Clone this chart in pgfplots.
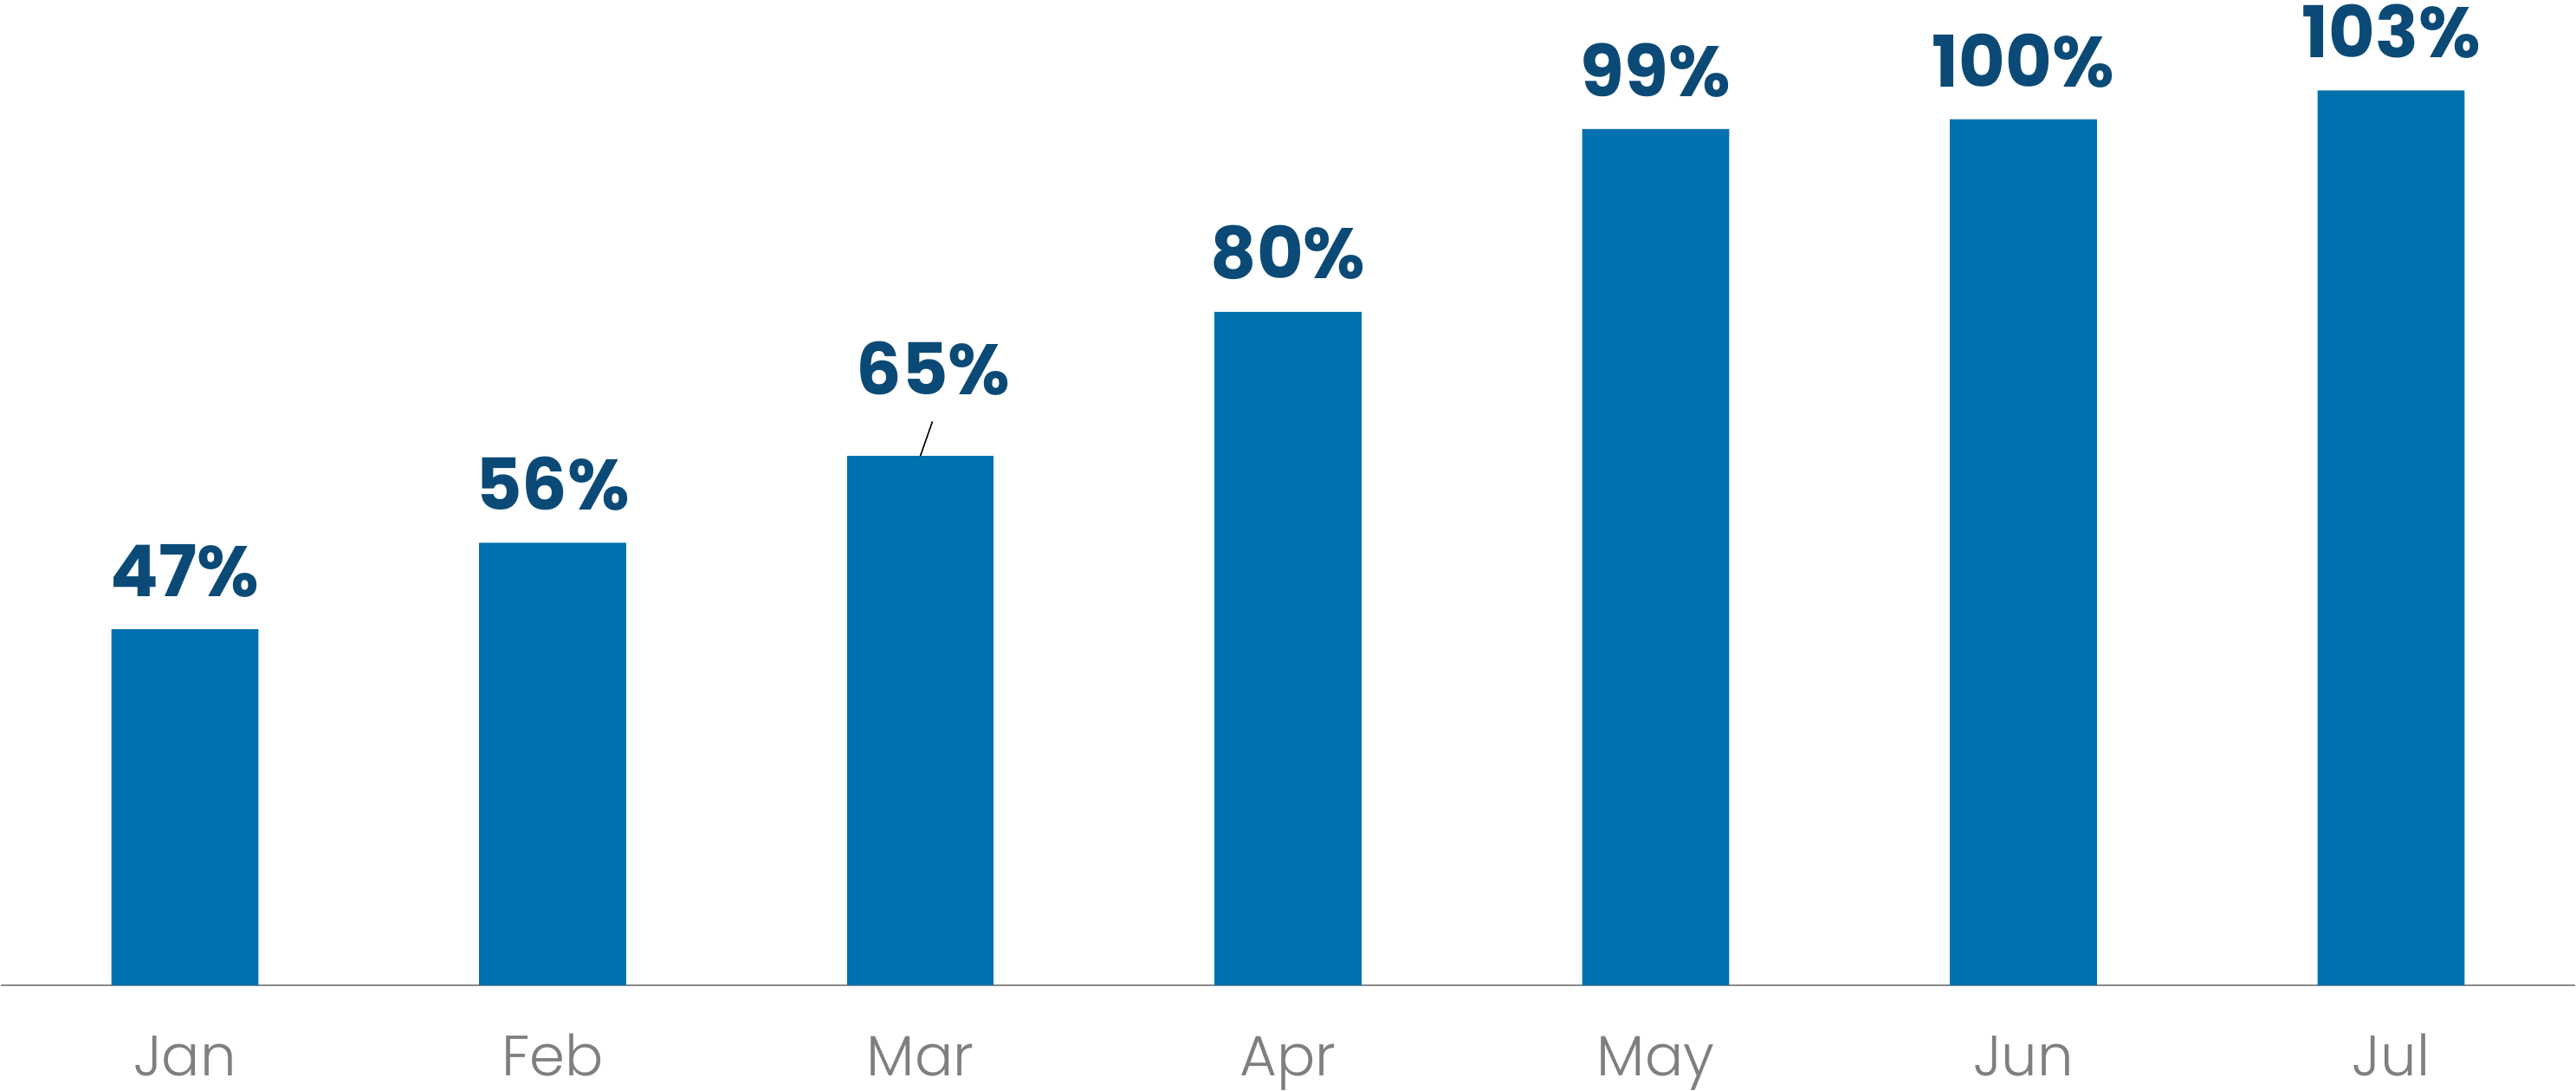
\documentclass[border=0pt]{standalone}
\usepackage{fontspec}
\setmainfont{Poppins}
\newfontfamily\lightfont{Poppins Light}
\usepackage{pgfplots}
\usepackage{pgfplotstable}
\pgfplotsset{compat=1.18}
\definecolor{barblue}{HTML}{0071AE}
\definecolor{labblue}{HTML}{0B4A76}
\definecolor{axgray}{HTML}{8A8A8A}
\definecolor{txtgray}{HTML}{7F7F7F}
\pgfplotstableread{
x y
0 47
1 56
3 80
4 99
5 100
6 103
}\datatable
\pgfplotstableread{
x y
2 65
}\martable
\begin{document}
\begin{tikzpicture}
\begin{axis}[
  name=main,
  scale only axis,
  width=743.5bp, height=284.5bp,
  xmin=-0.5, xmax=6.5,
  ymin=10, ymax=112.4,
  axis y line=none,
  axis x line*=bottom,
  x axis line style={axgray, line width=0.6bp},
  xtick={0,...,6},
  xticklabels={Jan,Feb,Mar,Apr,May,Jun,Jul},
  major tick length=0pt,
  ytick=\empty,
  xticklabel style={anchor=base, yshift=-26bp, inner sep=0pt, text=txtgray, font=\lightfont\fontsize{16.5}{18}\selectfont},
  clip=false,
  /pgf/number format/assume math mode=true,
  every axis plot/.append style={ybar, bar width=0.4, bar shift=0pt, fill=barblue, draw=none},
  nodes near coords={\pgfmathprintnumber{\pgfplotspointmeta}\%},
  nodes near coords style={anchor=south, inner sep=0pt, text=labblue,
    font=\bfseries\fontsize{20.7}{24}\selectfont},
]
\addplot[nodes near coords style={yshift=9bp}] table[x=x, y=y] {\datatable};
\addplot[nodes near coords style={xshift=3.75bp, yshift=17.25bp}] table[x=x, y=y] {\martable};
\draw[black, line width=0.4bp] (axis cs:2,65) -- (axis cs:2.033,68.6);
\path (rel axis cs:0,0) rectangle (rel axis cs:1,1);
\end{axis}
\path (main.south west) -- ([yshift=-30.4bp]main.south west);
\end{tikzpicture}
\end{document}
